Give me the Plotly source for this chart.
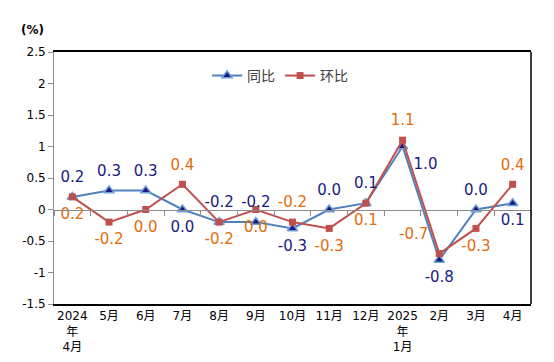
import plotly.graph_objects as go

categories = ["2024<br>年<br>4月", "5月", "6月", "7月", "8月", "9月", "10月", "11月", "12月",
              "2025<br>年<br>1月", "2月", "3月", "4月"]
yoy = [0.2, 0.3, 0.3, 0.0, -0.2, -0.2, -0.3, 0.0, 0.1, 1.0, -0.8, 0.0, 0.1]
mom = [0.2, -0.2, 0.0, 0.4, -0.2, 0.0, -0.2, -0.3, 0.1, 1.1, -0.7, -0.3, 0.4]
y_tickvals = [-1.5, -1.0, -0.5, 0.0, 0.5, 1.0, 1.5, 2.0, 2.5]
y_ticktext = ["-1.5", "-1", "-0.5", "0", "0.5", "1", "1.5", "2", "2.5"]

yoy_pos = ["top center", "top center", "top center", "bottom center", "top center", "top center",
           "bottom center", "top center", "top center", "bottom right", "bottom center",
           "top center", "bottom center"]
mom_pos = ["bottom center", "bottom center", "bottom center", "top center", "bottom center",
           "bottom center", "top center", "bottom center", "bottom center", "top center",
           "top left", "bottom center", "top center"]

FONT = "DejaVu Sans, Noto Sans CJK SC"

fig = go.Figure()
fig.add_trace(go.Scatter(
    x=categories, y=yoy, name="同比", mode="lines+markers",
    line=dict(color="#4f81bd", width=2),
    marker=dict(symbol="triangle-up", size=9, color="#1a1a80", line=dict(color="#6f9fd8", width=1.5)),
))
fig.add_trace(go.Scatter(
    x=categories, y=mom, name="环比", mode="lines+markers",
    line=dict(color="#c0504d", width=2),
    marker=dict(symbol="square", size=7, color="#c0504d"),
))
fig.add_trace(go.Scatter(
    x=categories, y=yoy, mode="markers+text", showlegend=False, hoverinfo="skip",
    marker=dict(size=16, color="rgba(0,0,0,0)"),
    text=[f"{v:.1f}" for v in yoy], textposition=yoy_pos,
    textfont=dict(color="#1a1a80", size=15, family=FONT),
))
fig.add_trace(go.Scatter(
    x=categories, y=mom, mode="markers+text", showlegend=False, hoverinfo="skip",
    marker=dict(size=16, color="rgba(0,0,0,0)"),
    text=[f"{v:.1f}" for v in mom], textposition=mom_pos,
    textfont=dict(color="#e36c09", size=15, family=FONT),
))
fig.add_trace(go.Scatter(
    x=categories, y=yoy, xaxis="x2", mode="lines", line=dict(width=0),
    showlegend=False, hoverinfo="skip", opacity=0,
))

fig.update_layout(
    width=538, height=346,
    margin=dict(l=46, r=15, t=44, b=50),
    plot_bgcolor="white", paper_bgcolor="white",
    font=dict(family=FONT, size=12, color="#000000"),
    xaxis=dict(type="category", range=[-0.5, 12.5], showline=True, linecolor="black", linewidth=1.5,
               mirror=True, ticks="", showgrid=False, tickfont=dict(size=12), automargin=False),
    xaxis2=dict(type="category", overlaying="x", anchor="free", position=0.375,
                range=[-0.5, 12.5], showline=True, linecolor="#8c8c8c", linewidth=1,
                ticks="outside", tickson="boundaries", ticklen=5, tickcolor="#8c8c8c",
                showticklabels=False, showgrid=False, automargin=False),
    yaxis=dict(range=[-1.5, 2.5], tickvals=y_tickvals, ticktext=y_ticktext,
               showline=True, linecolor="#8c8c8c", linewidth=1,
               ticks="outside", ticklen=5, tickcolor="#8c8c8c", showgrid=False, zeroline=False,
               tickfont=dict(size=12), automargin=False),
    legend=dict(orientation="h", x=0.474, y=0.905, xanchor="center", yanchor="middle",
                font=dict(size=14, color="#404040"), bgcolor="rgba(0,0,0,0)"),
    shapes=[dict(type="line", xref="paper", yref="paper", x0=1, x1=1, y0=0, y1=1,
                 line=dict(color="black", width=1.5))],
    annotations=[dict(text="<b>(%)</b>", xref="paper", yref="paper", x=-0.046, y=1.087,
                      xanchor="center", yanchor="middle", showarrow=False, font=dict(size=12))],
)

fig.write_html("out.html")
